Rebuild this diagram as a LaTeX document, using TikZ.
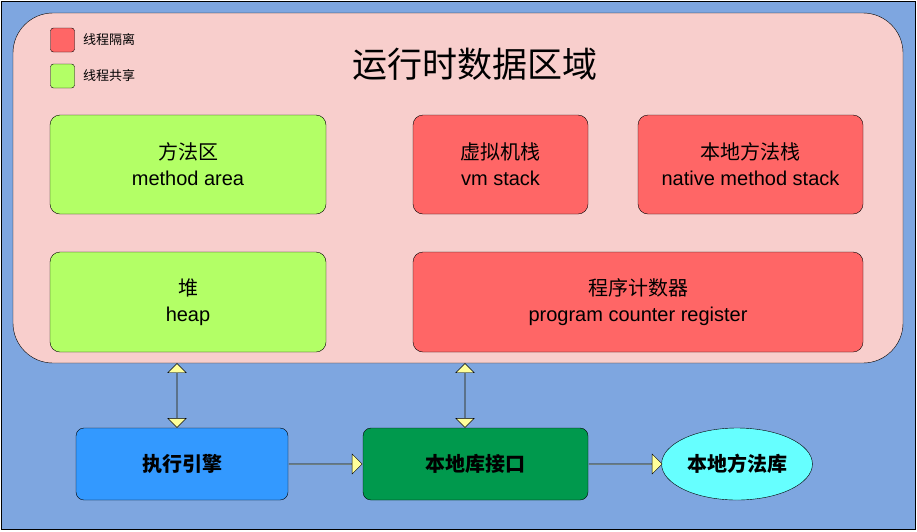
\documentclass[tikz,border=0pt]{standalone}
\usepackage{fontspec}
\setmainfont{Liberation Sans}
\newfontfamily\cjk{Noto Sans CJK SC}
\usetikzlibrary{shapes.geometric, shapes.arrows, positioning}
\definecolor{bgblue}{HTML}{7EA6E0}
\definecolor{areapink}{HTML}{F8CECC}
\definecolor{sharegreen}{HTML}{B3FF66}
\definecolor{isored}{HTML}{FF6666}
\definecolor{enginblue}{HTML}{3399FF}
\definecolor{ifgreen}{HTML}{00994D}
\definecolor{libcyan}{HTML}{66FFFF}
\definecolor{arrowyellow}{HTML}{FFFF99}
\tikzset{%
  % memory region box
  region/.style={rectangle, draw, rounded corners=10pt, align=center,
    font=\fontsize{20}{26}\selectfont, inner sep=0pt},
  shared/.style={region, fill=sharegreen},
  isolated/.style={region, fill=isored},
  % bottom boxes
  unit/.style={rectangle, draw, rounded corners=8pt, minimum width=212pt,
    minimum height=72pt, font=\cjk\bfseries\fontsize{20}{24}\selectfont},
  legend/.style={rectangle, draw, rounded corners=3pt, minimum size=24pt, inner sep=0pt},
  harrow/.style={single arrow, draw, fill=arrowyellow, minimum height=73pt,
    minimum width=20pt, single arrow head extend=8pt, inner sep=0pt},
  varrow/.style={double arrow, draw, fill=arrowyellow, minimum height=64pt,
    minimum width=18pt, double arrow head extend=9pt, inner sep=0pt, rotate=90}
}
\begin{document}
\begin{tikzpicture}[x=1pt, y=-1pt]
  \path[use as bounding box] (0,0) rectangle (917,531);
  \draw[fill=bgblue] (1,1) rectangle (915,529);
  \draw[fill=areapink, rounded corners=40pt] (13,13) rectangle (903,363);

  % legend
  \node[legend, fill=isored] (leg1) at (62.5,40) {};
  \node[right=5pt of leg1, font=\cjk\fontsize{13}{15}\selectfont] (leg1t) {线程隔离};
  \node[legend, fill=sharegreen] (leg2) at (62.5,76) {};
  \node[right=5pt of leg2, font=\cjk\fontsize{13}{15}\selectfont] (leg2t) {线程共享};

  \node[font=\cjk\fontsize{35}{40}\selectfont] (title) at (475,64) {运行时数据区域};

  % regions
  \node[shared, minimum width=276pt, minimum height=99pt] (method) at (188,164.5) {{\cjk 方法区}\\method area};
  \node[shared, minimum width=276pt, minimum height=100pt] (heap) at (188,302) {{\cjk 堆}\\heap};
  \node[isolated, minimum width=175pt, minimum height=99pt] (vm) at (500.5,164.5) {{\cjk 虚拟机栈}\\vm stack};
  \node[isolated, minimum width=225pt, minimum height=99pt] (native) at (750.5,164.5) {{\cjk 本地方法栈}\\native method stack};
  \node[isolated, minimum width=450pt, minimum height=100pt] (pc) at (638,302) {{\cjk 程序计数器}\\program counter register};

  % execution
  \node[unit, fill=enginblue] (engine) at (182,464) {执行引擎};
  \node[unit, fill=ifgreen, minimum width=225pt] (iface) at (475.5,464) {本地库接口};
  \node[ellipse, draw, fill=libcyan, minimum width=150pt, minimum height=72pt,
    font=\cjk\bfseries\fontsize{20}{24}\selectfont] (lib) at (737,464) {本地方法库};

  \node[harrow] (a1) at (325.5,464) {};
  \node[harrow] (a2) at (625.5,464) {};
  \node[varrow] (v1) at (177,395.5) {};
  \node[varrow] (v2) at (465,395.5) {};
\end{tikzpicture}
\end{document}
